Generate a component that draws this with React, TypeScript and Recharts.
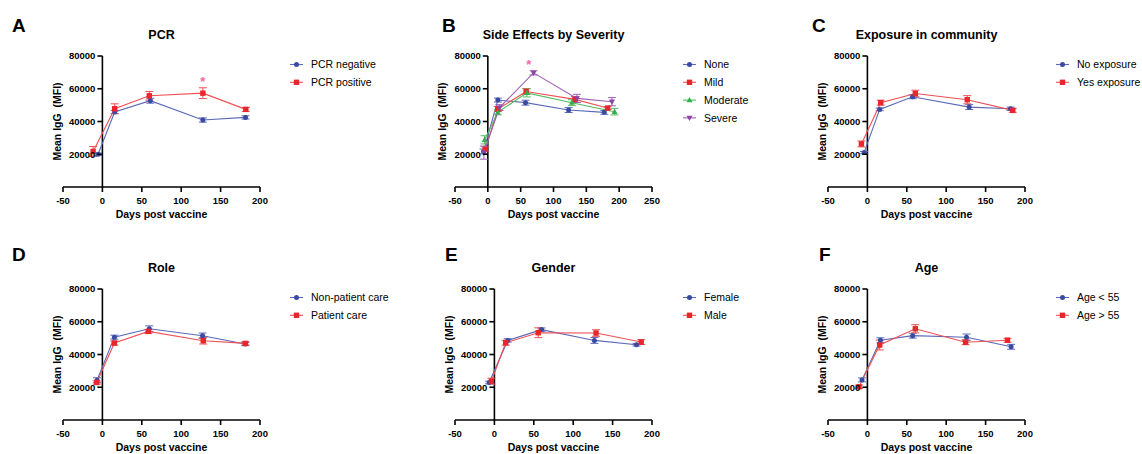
import React from "react";
import {
  ComposedChart,
  Line,
  XAxis,
  YAxis,
  ErrorBar,
  ReferenceLine,
  ReferenceDot,
} from "recharts";

const FONT = '"Liberation Sans", Arial, Helvetica, sans-serif';

const BLUE = "#3a4aa3";
const BLUE_LINE = "#5a69b8";
const RED = "#e8262c";
const RED_LINE = "#ef5055";
const GREEN = "#34b04a";
const GREEN_LINE = "#52bd64";
const PURPLE = "#8a45a5";
const PURPLE_LINE = "#9d62b4";
const STAR = "#f06aa0";

const yTicks = [20000, 40000, 60000, 80000];
const xTicks200 = [-50, 0, 50, 100, 150, 200];
const xTicks250 = [-50, 0, 50, 100, 150, 200, 250];

// A - PCR
const pcrNegX = [-5.5, 15.6, 60.8, 127.5, 181.6];
const pcrNegY = [20000, 45800, 52700, 40900, 42500];
const pcrNegErr = [800, 1000, 1500, 1300, 1000];
const pcrPosX = [-11.8, 15.6, 59.5, 127.5, 182];
const pcrPosY = [21700, 47800, 55700, 57300, 47400];
const pcrPosErr = [3000, 3000, 2600, 3300, 1200];
const pcrStar = { x: 127.5, y: 65800 };

// B - side effects
const noneX = [-6.6, 15.2, 57.4, 123, 177.3];
const noneY = [21700, 53100, 51500, 47000, 45600];
const noneErr = [1500, 1200, 1500, 1500, 1200];
const mildX = [-4, 15.2, 58.4, 132.6, 182.4];
const mildY = [23000, 47600, 58300, 53500, 48200];
const mildErr = [1500, 1500, 1800, 1800, 800];
const moderateX = [-5, 15.2, 59.5, 128, 193];
const moderateY = [28800, 45600, 57500, 51500, 46000];
const moderateErr = [2500, 1500, 2500, 1800, 2000];
const severeX = [-6, 17.8, 69.6, 135.7, 189];
const severeY = [21000, 48500, 69700, 54100, 52100];
const severeErr = [4000, 1800, 1300, 2500, 2500];
const sideStar = { x: 62.5, y: 76200 };

// C - exposure
const noExpX = [-4.2, 15.6, 57.4, 129.2, 181.6];
const noExpY = [21000, 47400, 55100, 48800, 47800];
const noExpErr = [700, 800, 1200, 1500, 1000];
const yesExpX = [-7.6, 16.9, 60.8, 126.7, 184.5];
const yesExpY = [26300, 51500, 57100, 53300, 46800];
const yesExpErr = [1800, 1500, 2000, 2500, 1200];

// D - role
const nonPatX = [-6.8, 15.2, 59.5, 127.1, 181.2];
const nonPatY = [24300, 50600, 55700, 51500, 46400];
const nonPatErr = [1500, 1200, 1800, 1600, 1000];
const patX = [-7.2, 15.2, 58.3, 128, 181.6];
const patY = [22900, 47000, 54100, 48400, 46800];
const patErr = [1000, 1200, 1200, 2000, 1000];

// E - gender
const femaleX = [-6.7, 16.9, 59.9, 126.9, 180.4];
const femaleY = [22900, 48600, 55200, 48600, 46000];
const femaleErr = [800, 1000, 1000, 1800, 800];
const maleX = [-3.8, 14.3, 55.6, 129, 186.3];
const maleY = [23700, 47200, 53300, 53100, 47600];
const maleErr = [1800, 1500, 3000, 2000, 1500];

// F - age
const youngX = [-6.8, 16.5, 57.4, 125.8, 182.4];
const youngY = [24500, 48700, 51500, 50500, 44700];
const youngErr = [1200, 1500, 1500, 2000, 1500];
const oldX = [-10.6, 15.6, 60.8, 124.6, 177.8];
const oldY = [20300, 45800, 55700, 47500, 48700];
const oldErr = [1000, 3000, 2500, 1500, 1200];

type Marker = "circle" | "square" | "triangle" | "down";
type Series = {
  name: string;
  x: number[];
  y: number[];
  err: number[];
  color: string;
  line: string;
  marker: Marker;
};
type PanelDef = {
  letter: string;
  letterX: number;
  title: string;
  left: number;
  top: number;
  w: number;
  h: number;
  xMax: number;
  ticks: number[];
  legendX: number;
  series: Series[];
  star?: { x: number; y: number };
};

const blue = (name: string, x: number[], y: number[], err: number[]): Series => ({
  name, x, y, err, color: BLUE, line: BLUE_LINE, marker: "circle",
});
const red = (name: string, x: number[], y: number[], err: number[]): Series => ({
  name, x, y, err, color: RED, line: RED_LINE, marker: "square",
});

const panels: PanelDef[] = [
  {
    letter: "A", letterX: 12, title: "PCR", left: 63, top: 56, w: 197, h: 131,
    xMax: 200, ticks: xTicks200, legendX: 290, star: pcrStar,
    series: [
      blue("PCR negative", pcrNegX, pcrNegY, pcrNegErr),
      red("PCR positive", pcrPosX, pcrPosY, pcrPosErr),
    ],
  },
  {
    letter: "B", letterX: 442, title: "Side Effects by Severity", left: 455, top: 56, w: 197, h: 131,
    xMax: 250, ticks: xTicks250, legendX: 683, star: sideStar,
    series: [
      blue("None", noneX, noneY, noneErr),
      red("Mild", mildX, mildY, mildErr),
      { name: "Moderate", x: moderateX, y: moderateY, err: moderateErr, color: GREEN, line: GREEN_LINE, marker: "triangle" },
      { name: "Severe", x: severeX, y: severeY, err: severeErr, color: PURPLE, line: PURPLE_LINE, marker: "down" },
    ],
  },
  {
    letter: "C", letterX: 812, title: "Exposure in community", left: 828, top: 56, w: 197, h: 131,
    xMax: 200, ticks: xTicks200, legendX: 1056,
    series: [
      blue("No exposure", noExpX, noExpY, noExpErr),
      red("Yes exposure", yesExpX, yesExpY, yesExpErr),
    ],
  },
  {
    letter: "D", letterX: 12, title: "Role", left: 63, top: 289, w: 197, h: 131,
    xMax: 200, ticks: xTicks200, legendX: 290,
    series: [
      blue("Non-patient care", nonPatX, nonPatY, nonPatErr),
      red("Patient care", patX, patY, patErr),
    ],
  },
  {
    letter: "E", letterX: 445, title: "Gender", left: 455, top: 289, w: 197, h: 131,
    xMax: 200, ticks: xTicks200, legendX: 683,
    series: [
      blue("Female", femaleX, femaleY, femaleErr),
      red("Male", maleX, maleY, maleErr),
    ],
  },
  {
    letter: "F", letterX: 819, title: "Age", left: 828, top: 289, w: 197, h: 131,
    xMax: 200, ticks: xTicks200, legendX: 1056,
    series: [
      blue("Age < 55", youngX, youngY, youngErr),
      red("Age > 55", oldX, oldY, oldErr),
    ],
  },
];

function markerShape(m: Marker, cx: number, cy: number, color: string, key?: string | number) {
  if (m === "circle") return <circle key={key} cx={cx} cy={cy} r={2.5} fill={color} />;
  if (m === "square")
    return <rect key={key} x={cx - 2.7} y={cy - 2.7} width={5.4} height={5.4} fill={color} />;
  if (m === "triangle")
    return (
      <polygon key={key} points={`${cx},${cy - 3.2} ${cx + 3},${cy + 2.2} ${cx - 3},${cy + 2.2}`} fill={color} />
    );
  return (
    <polygon key={key} points={`${cx},${cy + 3.2} ${cx + 3},${cy - 2.2} ${cx - 3},${cy - 2.2}`} fill={color} />
  );
}

const ML = 60, MR = 10, MT = 10, MB = 40, YW = 50, XH = 30;

function Panel({ p }: { p: PanelDef }) {
  const x0 = ML + (p.w * 50) / (p.xMax + 50);
  const axisY = MT + p.h;
  return (
    <div style={{ position: "absolute", left: p.left - ML, top: p.top - MT }}>
      <ComposedChart
        width={p.w + ML + MR}
        height={p.h + MT + MB}
        margin={{ top: MT, right: MR, left: ML - YW, bottom: MB - XH }}
      >
        <XAxis
          type="number"
          dataKey="x"
          domain={[-50, p.xMax]}
          ticks={p.ticks}
          interval={0}
          allowDataOverflow
          height={XH}
          axisLine={{ stroke: "#000", strokeWidth: 1.6 }}
          tickLine={{ stroke: "#000", strokeWidth: 1.6 }}
          tickSize={5}
          tick={(t: any) => (
            <text
              x={t.x}
              y={axisY + 16.5}
              textAnchor="middle"
              fontFamily={FONT}
              fontWeight="bold"
              fontSize={9.5}
              fill="#000"
            >
              {t.payload.value}
            </text>
          )}
        />
        <YAxis
          type="number"
          domain={[0, 80000]}
          ticks={yTicks}
          interval={0}
          allowDataOverflow
          width={YW}
          axisLine={false}
          tickLine={false}
          tick={(t: any) => (
            <g>
              <line x1={x0 - 5} x2={x0} y1={t.y} y2={t.y} stroke="#000" strokeWidth={1.6} />
              <text
                x={x0 - 7}
                y={t.y + 3.4}
                textAnchor="end"
                fontFamily={FONT}
                fontWeight="bold"
                fontSize={9.5}
                fill="#000"
              >
                {t.payload.value}
              </text>
            </g>
          )}
        />
        <ReferenceLine x={0} stroke="#000" strokeWidth={1.6} />
        {p.series.map((s) => (
          <Line
            key={s.name}
            name={s.name}
            data={s.x.map((v, i) => ({ x: v, y: s.y[i], e: s.err[i] }))}
            dataKey="y"
            type="linear"
            stroke={s.line}
            strokeWidth={1.1}
            isAnimationActive={false}
            activeDot={false}
            dot={(d: any) => markerShape(s.marker, d.cx, d.cy, s.color, d.index)}
          >
            <ErrorBar
              dataKey="e"
              direction="y"
              width={4}
              stroke={s.line}
              strokeWidth={1}
              isAnimationActive={false}
            />
          </Line>
        ))}
        {p.star && (
          <ReferenceDot
            x={p.star.x}
            y={p.star.y}
            r={0}
            shape={(d: any) => (
              <text
                x={d.cx}
                y={d.cy + 7}
                textAnchor="middle"
                fontFamily={FONT}
                fontWeight="bold"
                fontSize={13}
                fill={STAR}
              >
                *
              </text>
            )}
          />
        )}
      </ComposedChart>
    </div>
  );
}

function Labels() {
  return (
    <svg
      width={1142}
      height={454}
      style={{ position: "absolute", left: 0, top: 0, pointerEvents: "none" }}
      fontFamily={FONT}
    >
      {panels.map((p) => {
        const x0 = p.left + (p.w * 50) / (p.xMax + 50);
        const row2 = p.top > 200;
        return (
          <g key={p.letter}>
            <text x={p.letterX} y={row2 ? 261 : 32} fontSize={19} fontWeight="bold" fill="#000">
              {p.letter}
            </text>
            <text
              x={p.left + p.w / 2}
              y={p.top - 17}
              textAnchor="middle"
              fontSize={12.5}
              fontWeight="bold"
              fill="#000"
            >
              {p.title}
            </text>
            <text
              transform={`translate(${x0 - 45.5}, ${p.top + p.h / 2}) rotate(-90)`}
              textAnchor="middle"
              dominantBaseline="central"
              fontSize={10.5}
              fontWeight="bold"
              fill="#000"
              style={{ whiteSpace: "pre" }}
            >
              {"Mean IgG  (MFI)"}
            </text>
            <text
              x={p.left + p.w / 2}
              y={p.top + p.h + 31}
              textAnchor="middle"
              fontSize={10.5}
              fontWeight="bold"
              fill="#000"
            >
              Days post vaccine
            </text>
            {p.series.map((s, i) => {
              const ly = p.top + 8.5 + i * 17.8;
              return (
                <g key={s.name}>
                  <line x1={p.legendX} x2={p.legendX + 13} y1={ly} y2={ly} stroke={s.line} strokeWidth={1.1} />
                  {markerShape(s.marker, p.legendX + 6.5, ly, s.color)}
                  <text x={p.legendX + 21} y={ly + 3.8} fontSize={10.5} fill="#000">
                    {s.name}
                  </text>
                </g>
              );
            })}
          </g>
        );
      })}
    </svg>
  );
}

export default function App() {
  return (
    <div
      style={{
        position: "absolute",
        left: 0,
        top: 0,
        width: 1142,
        height: 454,
        background: "#fff",
        overflow: "hidden",
      }}
    >
      {panels.map((p) => (
        <Panel key={p.letter} p={p} />
      ))}
      <Labels />
    </div>
  );
}
